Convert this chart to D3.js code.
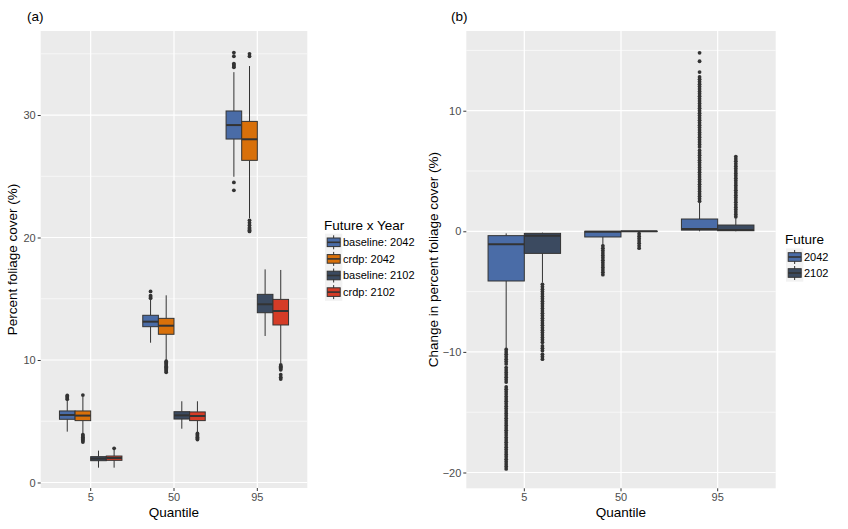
<!DOCTYPE html>
<html><head><meta charset="utf-8">
<script src="https://cdn.jsdelivr.net/npm/d3@7"></script>
<style>
body{margin:0;background:#fff;}
text{font-family:"Liberation Sans",Arial,sans-serif;}
</style></head>
<body><svg id="c" width="848" height="529"></svg>
<script>
// ---------- data ----------
const quantiles = ["5", "50", "95"];

// Panel (a)
const groupsA = ["baseline: 2042", "crdp: 2042", "baseline: 2102", "crdp: 2102"];
const colorsA = ["#4A6CA7", "#D8700A", "#3B4A60", "#D53C27"];
// stats per quantile: [lower whisker, q1, median, q3, upper whisker]
const baseline2042 = [[4.15, 5.16, 5.51, 5.84, 6.73], [11.41, 12.72, 13.13, 13.65, 14.95], [24.96, 28.04, 29.18, 30.33, 33.5]];
const crdp2042 = [[4.0, 5.05, 5.46, 5.84, 7.0], [10.0, 12.1, 12.8, 13.4, 15.28], [21.57, 26.3, 28.02, 29.48, 34.0]];
const baseline2102 = [[1.21, 1.78, 1.95, 2.11, 2.6], [4.39, 5.18, 5.48, 5.78, 6.63], [11.96, 13.86, 14.55, 15.36, 17.4]];
const crdp2102 = [[1.21, 1.81, 2.0, 2.16, 2.7], [4.1, 5.05, 5.43, 5.76, 6.63], [9.73, 12.86, 14.0, 14.95, 17.35]];
const outBaseline2042 = [[6.8, 6.9, 7.0, 7.1], [15.05, 15.15, 15.25, 15.6], [23.85, 24.5, 33.9, 34.0, 34.1, 34.2, 34.8, 35.1]];
const outCrdp2042 = [[3.3, 3.4, 3.5, 3.6, 3.7, 3.8, 3.9, 7.14], [9.0, 9.1, 9.2, 9.3, 9.4, 9.5, 9.6, 9.7, 9.8, 9.9], [20.5, 20.6, 20.7, 20.8, 21.0, 21.2, 21.4, 34.8, 35.0]];
const outBaseline2102 = [[], [], []];
const outCrdp2102 = [[2.79], [3.5, 3.6, 3.7, 3.8, 3.9, 4.0], [8.45, 8.6, 8.8, 9.2, 9.3, 9.4, 9.5, 9.6]];
const ticksA = [0, 10, 20, 30];
const minorA = [5, 15, 25, 35];

// Panel (b)
const groupsB = ["2042", "2102"];
const colorsB = ["#4A6CA7", "#3B4A60"];
const change2042 = [[-9.76, -4.12, -1.08, -0.36, -0.17], [-1.13, -0.47, -0.03, 0.0, 0.0], [0.0, 0.1, 0.19, 1.02, 2.37]];
const change2102 = [[-4.26, -1.83, -0.36, -0.17, -0.11], [0.0, -0.01, 0.0, 0.0, 0.0], [0.0, 0.05, 0.1, 0.52, 1.08]];
const outChange2042 = [
  [-9.8,-10.0,-10.2,-10.4,-10.6,-10.8,-11.0,-11.3,-11.5,-11.7,-11.9,-12.1,-12.3,-12.5,-12.9,-13.1,-13.3,-13.5,-13.7,-13.9,-14.1,-14.3,-14.5,-14.7,-14.9,-15.1,-15.3,-15.5,-15.7,-15.9,-16.1,-16.3,-16.5,-16.7,-16.9,-17.1,-17.3,-17.5,-17.7,-17.9,-18.1,-18.3,-18.5,-18.7,-18.9,-19.1,-19.3,-19.5,-19.7],
  [-1.2,-1.4,-1.6,-1.8,-2.0,-2.2,-2.4,-2.6,-2.8,-3.0,-3.2,-3.4,-3.6],
  [2.5,2.7,2.9,3.1,3.3,3.5,3.7,3.9,4.1,4.3,4.5,4.7,4.9,5.1,5.3,5.5,5.7,5.9,6.1,6.3,6.5,6.7,7.0,7.2,7.4,7.6,7.8,8.0,8.2,8.4,8.6,8.8,9.0,9.2,9.4,9.6,9.8,10.0,10.2,10.4,10.6,10.8,11.0,11.2,11.4,11.6,11.8,12.0,12.2,12.4,12.6,12.8,13.2,14.1,14.8]
];
const outChange2102 = [
  [-4.4,-4.6,-4.8,-5.0,-5.2,-5.4,-5.6,-5.8,-6.0,-6.2,-6.4,-6.6,-6.8,-7.0,-7.2,-7.4,-7.6,-7.8,-8.0,-8.2,-8.4,-8.6,-8.8,-9.0,-9.2,-9.5,-9.7,-9.9,-10.2,-10.4,-10.6],
  [-0.2,-0.4,-0.6,-0.8,-1.0,-1.2,-1.4],
  [1.2,1.4,1.6,1.8,2.0,2.2,2.4,2.6,2.8,3.0,3.2,3.4,3.6,3.8,4.0,4.2,4.4,4.6,4.8,5.0,5.2,5.4,5.6,5.8,6.0,6.2]
];
const ticksB = [-20, -10, 0, 10];
const minorB = [-15, -5, 5, 15];

// ---------- drawing ----------
const svg = d3.select("#c");
svg.append("rect").attr("width", 848).attr("height", 529).attr("fill", "#fff");

function panel(cfg) {
  const g = svg.append("g");
  const x = d3.scaleBand().domain(quantiles).range([cfg.left, cfg.right])
    .paddingInner(0.25).paddingOuter(0.225);
  const xs = d3.scaleBand().domain(cfg.groups).range([0, x.bandwidth()]);
  const y = d3.scaleLinear().domain(cfg.ydomain).range([cfg.bottom, cfg.top]);

  g.append("rect").attr("x", cfg.left).attr("y", cfg.top)
    .attr("width", cfg.right - cfg.left).attr("height", cfg.bottom - cfg.top).attr("fill", "#EBEBEB");
  g.selectAll(".mn").data(cfg.minor).join("line")
    .attr("x1", cfg.left).attr("x2", cfg.right).attr("y1", d => y(d)).attr("y2", d => y(d))
    .attr("stroke", "#fff").attr("stroke-width", 0.6);
  g.selectAll(".mj").data(cfg.ticks).join("line")
    .attr("x1", cfg.left).attr("x2", cfg.right).attr("y1", d => y(d)).attr("y2", d => y(d))
    .attr("stroke", "#fff").attr("stroke-width", 1.2);
  g.selectAll(".vx").data(quantiles).join("line")
    .attr("x1", d => x(d) + x.bandwidth() / 2).attr("x2", d => x(d) + x.bandwidth() / 2)
    .attr("y1", cfg.top).attr("y2", cfg.bottom)
    .attr("stroke", "#fff").attr("stroke-width", 1.2);

  cfg.groups.forEach((grp, gi) => {
    quantiles.forEach((q, qi) => {
      const s = cfg.stats[gi][qi];
      const x0 = x(q) + xs(grp), w = xs.bandwidth(), cx = x0 + w / 2;
      g.append("line").attr("x1", cx).attr("x2", cx).attr("y1", y(s[0])).attr("y2", y(s[1]))
        .attr("stroke", "#333").attr("stroke-width", 1);
      g.append("line").attr("x1", cx).attr("x2", cx).attr("y1", y(s[3])).attr("y2", y(s[4]))
        .attr("stroke", "#333").attr("stroke-width", 1);
      g.append("rect").attr("x", x0).attr("y", y(s[3])).attr("width", w)
        .attr("height", Math.max(0.01, y(s[1]) - y(s[3])))
        .attr("fill", cfg.colors[gi]).attr("stroke", "#333").attr("stroke-width", 1);
      g.append("line").attr("x1", x0).attr("x2", x0 + w).attr("y1", y(s[2])).attr("y2", y(s[2]))
        .attr("stroke", "#333").attr("stroke-width", 2);
      g.selectAll(null).data(cfg.outliers[gi][qi]).join("circle")
        .attr("cx", cx).attr("cy", d => y(d)).attr("r", 1.9).attr("fill", "#333");
    });
  });

  const ya = g.append("g").attr("transform", `translate(${cfg.left},0)`)
    .call(d3.axisLeft(y).tickValues(cfg.ticks).tickSize(3).tickPadding(2).tickFormat(d3.format("d")));
  const xa = g.append("g").attr("transform", `translate(0,${cfg.bottom})`)
    .call(d3.axisBottom(x).tickSize(3).tickPadding(2));
  [ya, xa].forEach(a => {
    a.select(".domain").remove();
    a.selectAll(".tick line").attr("stroke", "#333");
    a.selectAll(".tick text").attr("fill", "#4D4D4D").style("font-size", "11px")
      .style("font-family", "'Liberation Sans',Arial,sans-serif");
  });

  g.append("text").attr("x", (cfg.left + cfg.right) / 2).attr("y", 517)
    .attr("text-anchor", "middle").style("font-size", "13.5px").attr("fill", "#000").text("Quantile");
  g.append("text").attr("transform", `translate(${cfg.ytitleX},${(cfg.top + cfg.bottom) / 2}) rotate(-90)`)
    .attr("text-anchor", "middle").attr("dy", "0.35em").style("font-size", "13.5px").attr("fill", "#000").text(cfg.ytitle);
  g.append("text").attr("x", cfg.tagX).attr("y", 21).style("font-size", "13.5px").attr("fill", "#000").text(cfg.tag);

  // legend
  const L = g.append("g");
  L.append("text").attr("x", cfg.legX).attr("y", cfg.legTitleY).attr("dy", "0.35em")
    .style("font-size", "13.5px").attr("fill", "#000").text(cfg.legTitle);
  cfg.groups.forEach((grp, gi) => {
    const cy = cfg.legRow0 + gi * cfg.legStep, kx = cfg.legX + 1;
    L.append("rect").attr("x", kx).attr("y", cy - 8.6).attr("width", 17.3).attr("height", 17.3).attr("fill", "#F2F2F2");
    L.append("line").attr("x1", kx + 8.65).attr("x2", kx + 8.65).attr("y1", cy - 7).attr("y2", cy + 7)
      .attr("stroke", "#333").attr("stroke-width", 1);
    L.append("rect").attr("x", kx + 2.2).attr("y", cy - 4.3).attr("width", 13).attr("height", 8.6)
      .attr("fill", cfg.colors[gi]).attr("stroke", "#333").attr("stroke-width", 1);
    L.append("line").attr("x1", kx + 2.2).attr("x2", kx + 15.2).attr("y1", cy).attr("y2", cy)
      .attr("stroke", "#333").attr("stroke-width", 1.6);
    L.append("text").attr("x", kx + 18).attr("y", cy).attr("dy", "0.35em")
      .style("font-size", "11px").attr("fill", "#000").text(grp);
  });
}

panel({
  left: 40.7, right: 307.3, top: 31, bottom: 488, ydomain: [-0.45, 36.86],
  groups: groupsA, colors: colorsA,
  stats: [baseline2042, crdp2042, baseline2102, crdp2102],
  outliers: [outBaseline2042, outCrdp2042, outBaseline2102, outCrdp2102],
  ticks: ticksA, minor: minorA,
  ytitle: "Percent foliage cover (%)", ytitleX: 12, tag: "(a)", tagX: 27,
  legTitle: "Future x Year", legX: 324, legTitleY: 225, legRow0: 242.3, legStep: 16.6
});
panel({
  left: 466.3, right: 775.7, top: 31, bottom: 488.3, ydomain: [-21.31, 16.61],
  groups: groupsB, colors: colorsB,
  stats: [change2042, change2102],
  outliers: [outChange2042, outChange2102],
  ticks: ticksB, minor: minorB,
  ytitle: "Change in percent foliage cover (%)", ytitleX: 433, tag: "(b)", tagX: 451,
  legTitle: "Future", legX: 785, legTitleY: 239.5, legRow0: 257, legStep: 16
});
</script></body></html>
